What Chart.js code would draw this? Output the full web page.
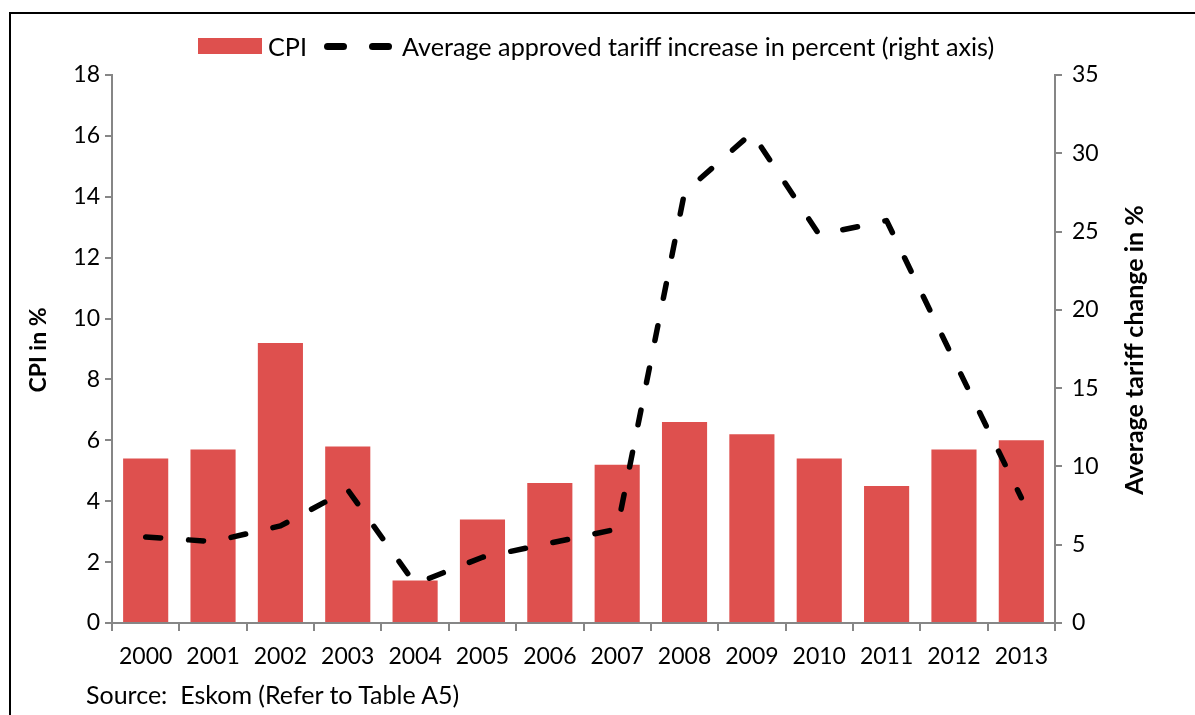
<!DOCTYPE html>
<html>
<head>
<meta charset="utf-8">
<script src="https://cdn.jsdelivr.net/npm/chart.js@4"></script>
<style>
  body { margin: 0; background: #fff; overflow: hidden; }
  #wrap { position: relative; width: 1195px; height: 715px; font-family: Lato, sans-serif; color: #000; }
  #wrap canvas { position: absolute; left: 0; top: 0; }
  .frame { position: absolute; left: 9px; top: 12px; width: 1200px; height: 720px; border: 2px solid #000; }
  .legend { position: absolute; left: 198px; top: 33px; height: 26px; font-size: 25.2px; line-height: 26px; white-space: nowrap; }
  .legend .box { position: absolute; left: 0; top: 5px; width: 64px; height: 16px; background: #de504e; }
  .legend .dash { position: absolute; top: 10px; width: 23px; height: 7px; border-radius: 4px; background: #000; }
  .legend .txt { position: absolute; top: 0; }
  .ytitle { position: absolute; font-weight: bold; white-space: nowrap; transform: translate(-50%, -50%) rotate(-90deg); }
  .source { position: absolute; left: 86px; top: 679px; font-size: 25px; line-height: 30px; white-space: pre; }
</style>
</head>
<body>
<div id="wrap">
  <canvas id="chart" width="1195" height="715"></canvas>
  <div class="frame"></div>
  <div class="legend">
    <span class="box"></span>
    <span class="txt" style="left:70px">CPI</span>
    <span class="dash" style="left:126px"></span>
    <span class="dash" style="left:171px"></span>
    <span class="txt" style="left:204px">Average approved tariff increase in percent (right axis)</span>
  </div>
  <div class="ytitle" style="left:37px; top:350px; font-size:23px">CPI in %</div>
  <div class="ytitle" style="left:1133px; top:350px; font-size:25px">Average tariff change in %</div>
  <div class="source">Source:  Eskom (Refer to Table A5)</div>
</div>
<script>
const years = ['2000', '2001', '2002', '2003', '2004', '2005', '2006', '2007', '2008', '2009', '2010', '2011', '2012', '2013'];
const cpi = [5.4, 5.7, 9.2, 5.8, 1.4, 3.4, 4.6, 5.2, 6.6, 6.2, 5.4, 4.5, 5.7, 6.0];
const tariff = [5.5, 5.2, 6.2, 8.5, 2.5, 4.2, 5.1, 6.0, 27.5, 31.3, 24.8, 25.7, 16.8, 8.0];
const cpiTicks = [0, 2, 4, 6, 8, 10, 12, 14, 16, 18];
const tariffTicks = [0, 5, 10, 15, 20, 25, 30, 35];

const axisGray = '#868686';
const tickFont = { family: 'Lato', size: 23 };

const ctx = document.getElementById('chart');
const chart = new Chart(ctx, {
  data: {
    labels: years,
    datasets: [
      {
        type: 'line',
        label: 'Average approved tariff increase in percent (right axis)',
        data: tariff,
        yAxisID: 'y1',
        borderColor: '#000',
        borderWidth: 5.5,
        borderDash: [15, 28],
        borderCapStyle: 'round',
        borderJoinStyle: 'round',
        pointRadius: 0,
        tension: 0,
        order: 0,
      },
      {
        type: 'bar',
        label: 'CPI',
        data: cpi,
        yAxisID: 'y',
        backgroundColor: '#de504e',
        barPercentage: 0.67,
        categoryPercentage: 1.0,
        order: 1,
      },
    ],
  },
  options: {
    responsive: false,
    animation: false,
    layout: { padding: { top: 75, left: 0, right: 0, bottom: 0 } },
    plugins: {
      legend: { display: false },
      tooltip: { enabled: false },
    },
    scales: {
      x: {
        grid: { drawOnChartArea: false, drawTicks: true, tickLength: 8, color: axisGray, lineWidth: 2, offset: true },
        border: { color: axisGray, width: 2 },
        ticks: { font: tickFont, color: '#000', padding: 12, maxRotation: 0 },
        afterFit: (scale) => { scale.height = 92; },
      },
      y: {
        position: 'left',
        min: 0,
        max: 18,
        afterBuildTicks: (scale) => { scale.ticks = cpiTicks.map((v) => ({ value: v })); },
        grid: { drawOnChartArea: false, drawTicks: true, tickLength: 7, color: axisGray, lineWidth: 2 },
        border: { color: axisGray, width: 2 },
        ticks: { font: tickFont, color: '#000', padding: 5 },
        afterFit: (scale) => { scale.width = 112; },
      },
      y1: {
        position: 'right',
        min: 0,
        max: 35,
        afterBuildTicks: (scale) => { scale.ticks = tariffTicks.map((v) => ({ value: v })); },
        grid: { drawOnChartArea: false, drawTicks: true, tickLength: 7, color: axisGray, lineWidth: 2 },
        border: { color: axisGray, width: 2 },
        ticks: { font: tickFont, color: '#000', padding: 10 },
        afterFit: (scale) => { scale.width = 140; },
      },
    },
  },
});
</script>
</body>
</html>
